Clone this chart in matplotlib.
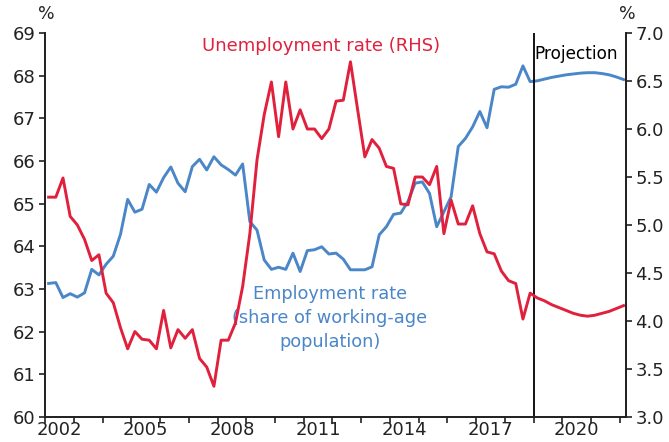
import numpy as np
import matplotlib
matplotlib.use("Agg")
import matplotlib.pyplot as plt

# quarterly, 2002Q1 .. 2022Q1 (history to 2018Q4, projection after)
quarters = 2002.125 + 0.25 * np.arange(81)

# employment rate, % of working-age population (LHS)
employment = [
    63.13, 63.15, 62.80, 62.89, 62.81, 62.91, 63.46, 63.33, 63.58, 63.77,
    64.28, 65.10, 64.80, 64.87, 65.45, 65.27, 65.61, 65.86, 65.48, 65.28,
    65.87, 66.04, 65.79, 66.10, 65.91, 65.80, 65.67, 65.93, 64.58, 64.38,
    63.68, 63.46, 63.51, 63.46, 63.84, 63.41, 63.90, 63.92, 63.99, 63.82,
    63.84, 63.70, 63.45, 63.45, 63.45, 63.52, 64.27, 64.46, 64.75, 64.78,
    65.05, 65.48, 65.51, 65.24, 64.46, 64.81, 65.16, 66.34, 66.53, 66.80,
    67.16, 66.78, 67.68, 67.74, 67.73, 67.80, 68.23, 67.86, 67.88, 67.92,
    67.96, 67.99, 68.02, 68.04, 68.06, 68.07, 68.07, 68.05, 68.02, 67.97,
    67.91,
]

# unemployment rate, % (RHS)
unemployment = [
    5.29, 5.29, 5.49, 5.09, 5.00, 4.85, 4.63, 4.69, 4.29, 4.19,
    3.93, 3.71, 3.89, 3.81, 3.80, 3.71, 4.11, 3.72, 3.91, 3.82,
    3.91, 3.61, 3.52, 3.32, 3.80, 3.80, 3.98, 4.36, 4.91, 5.68,
    6.15, 6.49, 5.92, 6.49, 6.00, 6.20, 6.00, 6.00, 5.90, 6.00,
    6.29, 6.30, 6.70, 6.20, 5.71, 5.89, 5.80, 5.61, 5.59, 5.22,
    5.21, 5.50, 5.50, 5.42, 5.61, 4.91, 5.26, 5.01, 5.01, 5.20,
    4.91, 4.72, 4.70, 4.52, 4.42, 4.39, 4.02, 4.29, 4.24, 4.21,
    4.17, 4.14, 4.11, 4.08, 4.06, 4.05, 4.06, 4.08, 4.10, 4.13,
    4.16,
]

year_labels = ["2002", "2005", "2008", "2011", "2014", "2017", "2020"]
projection_start = 2019.0

blue = "#4a86c8"
red = "#e0203c"
ink = "#222222"

plt.rcParams["font.family"] = "DejaVu Sans"
plt.rcParams["font.size"] = 12.5

fig = plt.figure(figsize=(6.69, 4.42), dpi=100)
ax = fig.add_axes([0.0673, 0.0566, 0.8680, 0.8687])
ax2 = ax.twinx()

ax.plot(quarters, employment, color=blue, lw=2.1)
ax2.plot(quarters, unemployment, color=red, lw=2.1)
ax.axvline(projection_start, color="black", lw=1.3)

ax.set_xlim(2002, 2022.2)
ax.set_ylim(60, 69)
ax2.set_ylim(3, 7)
ax.set_yticks(range(60, 70))
ax2.set_yticks(np.arange(3, 7.01, 0.5))
ax2.set_yticklabels([f"{v:.1f}" for v in np.arange(3, 7.01, 0.5)])

ax.set_xticks(range(2002, 2023))
ax.set_xticklabels([])
ax.set_xticks([int(y) + 0.5 for y in year_labels], labels=year_labels, minor=True)
ax.tick_params(axis="x", which="minor", length=0, pad=3, labelsize=13, colors=ink)
ax.tick_params(axis="x", which="major", direction="out", length=4, width=1.2, color=ink)
ax.tick_params(axis="y", direction="out", length=4, width=1.2, color=ink,
               labelcolor=ink, labelsize=13, pad=3)
ax2.tick_params(axis="y", direction="out", length=4, width=1.2, color=ink,
                labelcolor=ink, labelsize=13, pad=3)

for a in (ax, ax2):
    a.spines["top"].set_visible(False)
    for s in ("left", "right", "bottom"):
        a.spines[s].set_linewidth(1.3)
        a.spines[s].set_color(ink)

fig.text(0.069, 0.968, "%", ha="center", va="center", color=ink, fontsize=12.5)
fig.text(0.937, 0.968, "%", ha="center", va="center", color=ink, fontsize=12.5)

ax.text(2011.6, 68.7, "Unemployment rate (RHS)", color=red, ha="center",
        va="center", fontsize=13)
ax.text(2011.9, 62.32, "Employment rate\n(share of working-age\npopulation)",
        color=blue, ha="center", va="center", fontsize=12.8, linespacing=1.45)
ax.text(2019.02, 68.5, "Projection", color="black", ha="left", va="center",
        fontsize=12.2)

fig.savefig("out.png", dpi=100)
